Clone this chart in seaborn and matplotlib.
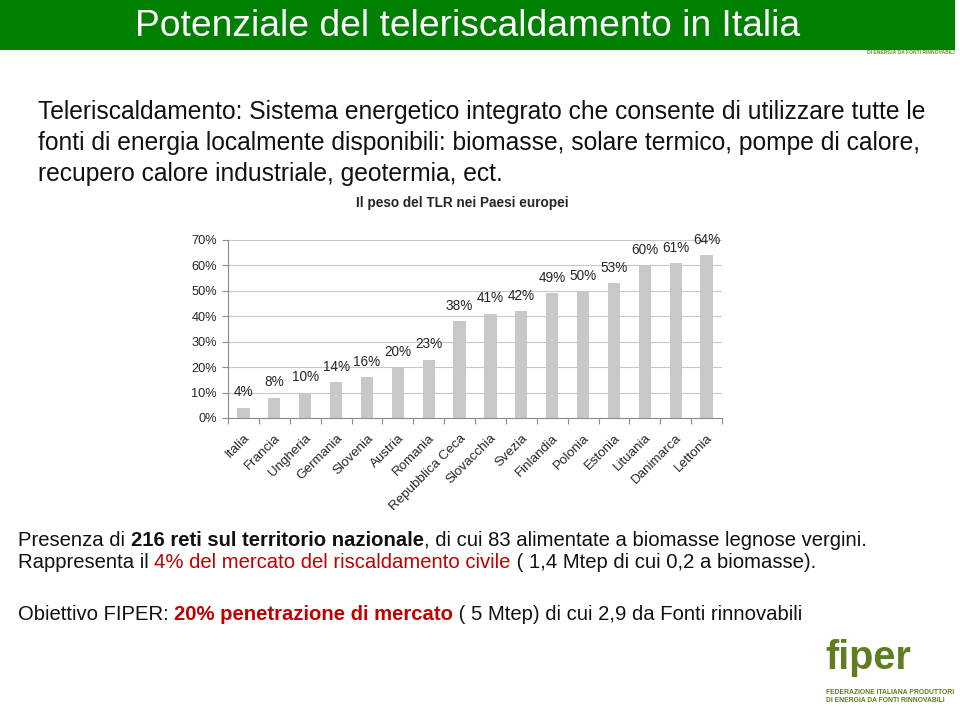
import matplotlib
matplotlib.use("Agg")
import matplotlib.pyplot as plt
import seaborn as sns
import numpy as np
from matplotlib import font_manager as fm

# ---------------- data ----------------
countries = ["Italia", "Francia", "Ungheria", "Germania", "Slovenia", "Austria",
             "Romania", "Repubblica Ceca", "Slovacchia", "Svezia", "Finlandia",
             "Polonia", "Estonia", "Lituania", "Danimarca", "Lettonia"]
shares = [4, 8, 10, 14, 16, 20, 23, 38, 41, 42, 49, 50, 53, 60, 61, 64]
y_ticks = [0, 10, 20, 30, 40, 50, 60, 70]
y_tick_labels = ["0%", "10%", "20%", "30%", "40%", "50%", "60%", "70%"]

title = "Potenziale del teleriscaldamento in Italia"
chart_title = "Il peso del TLR nei Paesi europei"
intro_lines = [
    "Teleriscaldamento: Sistema energetico integrato che consente di utilizzare tutte le",
    "fonti di energia localmente disponibili: biomasse, solare termico, pompe di calore,",
    "recupero calore industriale, geotermia, ect.",
]

sns.set_theme(style="white")
plt.rcParams["font.family"] = ["Liberation Sans", "DejaVu Sans"]

W, H = 960, 707
fig = plt.figure(figsize=(W / 100, H / 100), dpi=100)
fig.patch.set_facecolor("white")

def fx(x):
    return x / W

def fy(y):
    return 1 - y / H

# ---------------- banner ----------------
banner = fig.add_axes([0, fy(50), fx(955), 50 / H])
banner.set_facecolor("#008000")
banner.set_xticks([]); banner.set_yticks([])
for s in banner.spines.values():
    s.set_visible(False)
fig.text(fx(468), fy(26), title, color="white", fontsize=26.8,
         ha="center", va="center")
fig.text(fx(955), fy(53), "DI ENERGIA DA FONTI RINNOVABILI", color="#6b8a2a",
         fontsize=3.6, ha="right", va="center", fontweight="bold")

# ---------------- intro text ----------------
for i, line in enumerate(intro_lines):
    fig.text(fx(38), fy(112 + i * 31), line, fontsize=17.7, color="#111111",
             ha="left", va="center")

# ---------------- chart ----------------
ax = fig.add_axes([fx(228), fy(418), (722 - 228) / W, (418 - 240) / H])
sns.barplot(x=countries, y=shares, color="#c8c8c8", width=0.4, ax=ax,
            saturation=1, edgecolor="none")
ax.set_ylim(0, 70)
ax.set_xlim(-0.5, len(countries) - 0.5)
ax.set_yticks(y_ticks)
ax.set_yticklabels(y_tick_labels, fontsize=9.2)
ax.yaxis.grid(True, color="#c8c8c8", linewidth=0.8)
ax.set_axisbelow(True)
for s in ["top", "right"]:
    ax.spines[s].set_visible(False)
for s in ["left", "bottom"]:
    ax.spines[s].set_color("#8c8c8c")
    ax.spines[s].set_linewidth(0.8)
ax.tick_params(axis="y", length=4, width=0.8, color="#8c8c8c", pad=4,
               left=True, direction="out")
ax.set_xticks(range(len(countries)))
ax.set_xticklabels(countries, rotation=45, ha="right", rotation_mode="anchor",
                   fontsize=9.6)
ax.tick_params(axis="x", which="major", length=0, pad=10)
ax.set_xticks(np.arange(-0.5, len(countries), 1.0), minor=True)
ax.tick_params(axis="x", which="minor", length=4, width=0.8, color="#8c8c8c",
               bottom=True, direction="out")
ax.set_xlabel(""); ax.set_ylabel("")
ax.bar_label(ax.containers[0], labels=[f"{v}%" for v in shares],
             padding=6, fontsize=9.8)
fig.text(fx(462), fy(203), chart_title, fontsize=9.8, fontweight="bold",
         ha="center", va="center")

# ---------------- mixed-style lines ----------------
avail = {f.name for f in fm.fontManager.ttflist}
narrow = "Liberation Sans Narrow" if "Liberation Sans Narrow" in avail else "Liberation Sans"

fig.canvas.draw()
renderer = fig.canvas.get_renderer()

def seg_line(x0, y0, segments, size, family):
    x = x0
    for txt, weight, color in segments:
        t = fig.text(fx(x), fy(y0), txt, fontsize=size, fontweight=weight,
                     color=color, ha="left", va="center", family=family)
        bb = t.get_window_extent(renderer)
        x += bb.width
    return x

RED = "#c00000"
BLK = "#111111"
lines = [
    (18, 541, [("Presenza di ", "normal", BLK),
               ("216 reti sul territorio nazionale", "bold", BLK),
               (", di cui 83 alimentate a biomasse legnose vergini.", "normal", BLK)]),
    (18, 563, [("Rappresenta il ", "normal", BLK),
               ("4% del mercato del riscaldamento civile", "normal", RED),
               (" ( 1,4 Mtep di cui 0,2 a biomasse).", "normal", BLK)]),
    (18, 614, [("Obiettivo FIPER: ", "normal", BLK),
               ("20% penetrazione di mercato", "bold", RED),
               (" ( 5 Mtep) di cui 2,9 da Fonti rinnovabili", "normal", BLK)]),
]
bsize = 15.0 if narrow != "Liberation Sans" else 14.6
for x0, y0, segs in lines:
    seg_line(x0, y0, segs, bsize, [narrow, "DejaVu Sans"])

# ---------------- logo ----------------
OLIVE = "#5e7d1f"
fig.text(fx(825), fy(658), "fiper", fontsize=28.5, fontweight="bold", color=OLIVE,
         ha="left", va="center", family=[narrow, "DejaVu Sans"])
fig.text(fx(826), fy(692), "FEDERAZIONE ITALIANA PRODUTTORI", fontsize=4.9,
         fontweight="bold", color=OLIVE, ha="left", va="center",
         family=[narrow, "DejaVu Sans"])
fig.text(fx(826), fy(701), "DI ENERGIA DA FONTI RINNOVABILI", fontsize=4.9,
         fontweight="bold", color=OLIVE, ha="left", va="center",
         family=[narrow, "DejaVu Sans"])

fig.savefig("out.png", dpi=100, facecolor="white")
